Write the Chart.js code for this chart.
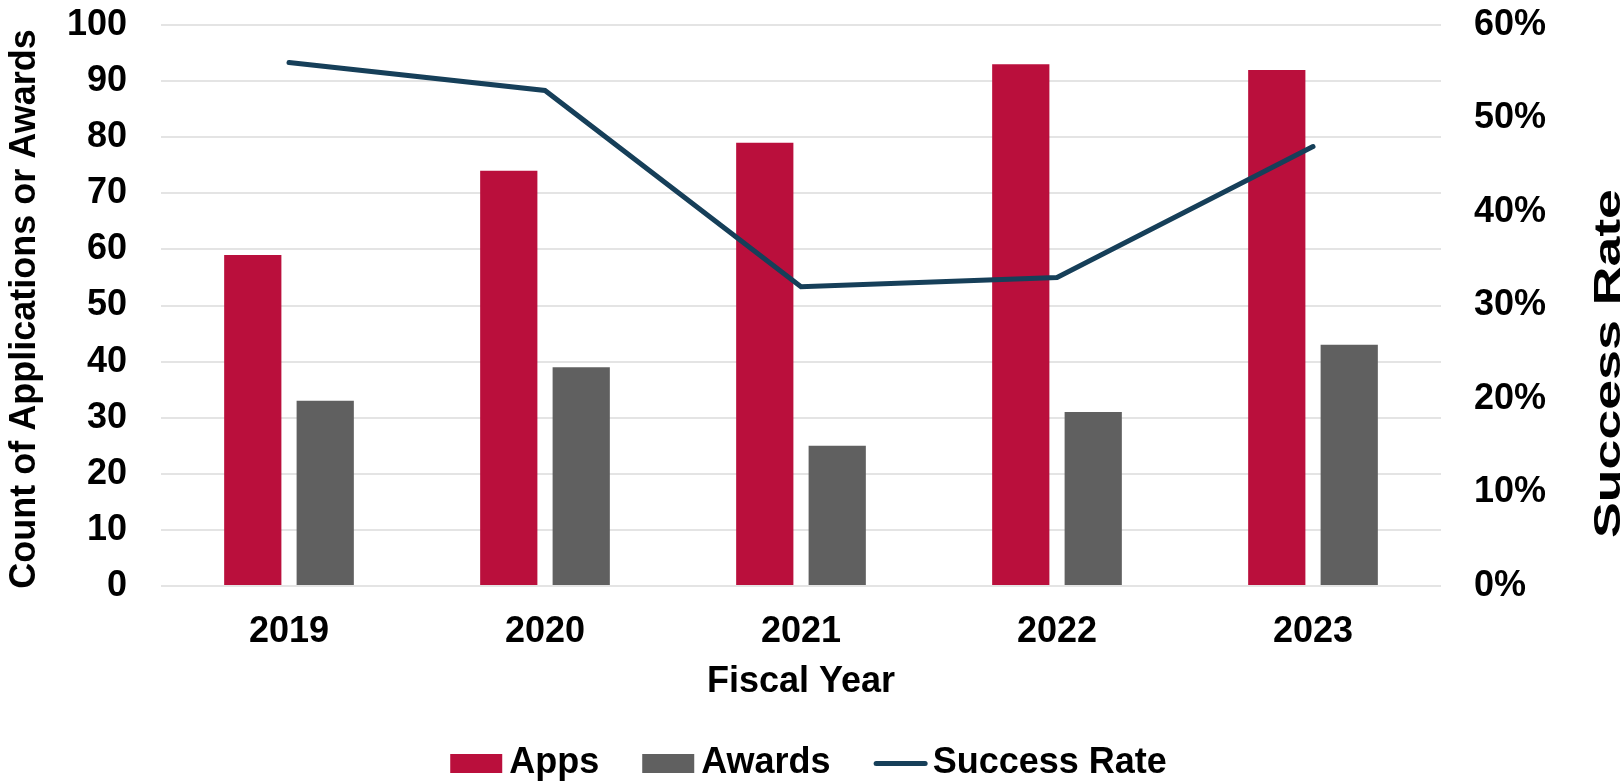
<!DOCTYPE html>
<html>
<head>
<meta charset="utf-8">
<script src="https://cdn.jsdelivr.net/npm/chart.js@4"></script>
<style>
  html, body { margin: 0; padding: 0; background: #ffffff; }
  #wrap { width: 1623px; height: 784px; position: relative; }
</style>
</head>
<body>
<div id="wrap"><canvas id="c" width="1623" height="784"></canvas></div>
<script>
// ---- Data ----
const categories = ['2019', '2020', '2021', '2022', '2023'];
const apps = [59, 74, 79, 93, 92];
const awards = [33, 39, 25, 31, 43];
const successRate = [0.56, 0.53, 0.32, 0.33, 0.47];

// ---- Axis tick settings ----
const countMax = 100;
const countStep = 10;
const rateMax = 0.6;
const rateStep = 0.1;

// ---- Text ----
const seriesLabels = ['Apps', 'Awards', 'Success Rate'];
const xTitle = 'Fiscal Year';
const yLeftTitle = 'Count of Applications or Awards';
const yRightTitle = 'Success Rate';

// ---- Styles ----
const FONT_FAMILY = "'Liberation Sans', Arial, Helvetica, sans-serif";
const appsColor = '#BA0F3C';
const awardsColor = '#606060';
const lineColor = '#163F59';
const gridColor = '#E4E4E4';

const titlesAndLegend = {
  id: 'titlesAndLegend',
  afterDraw(chart) {
    const ctx = chart.ctx;
    ctx.save();
    ctx.font = 'bold 36px ' + FONT_FAMILY;
    ctx.fillStyle = '#000000';

    // Left y-axis title (reads bottom to top)
    ctx.save();
    ctx.translate(35, 309);
    ctx.rotate(-Math.PI / 2);
    ctx.textAlign = 'center';
    ctx.textBaseline = 'alphabetic';
    ctx.fillText(yLeftTitle, 0, 0);
    ctx.restore();

    // Right y-axis title (reads bottom to top, stretched)
    ctx.save();
    ctx.translate(chart.width - 3.5, 363.5);
    ctx.rotate(-Math.PI / 2);
    ctx.scale(1.49, 1);
    ctx.textAlign = 'center';
    ctx.textBaseline = 'alphabetic';
    ctx.fillText(yRightTitle, 0, 0);
    ctx.restore();

    // Legend
    const ds = chart.data.datasets;
    const boxW = 52, boxH = 19, gap = 7, itemGap = 43;
    const widths = ds.map(d => ctx.measureText(d.label).width);
    let total = 0;
    widths.forEach(w => { total += boxW + gap + w; });
    total += itemGap * (ds.length - 1);
    let x = (chart.width - total) / 2 - 3;
    const cy = 763.5;
    ds.forEach((d, i) => {
      if (d.type === 'line') {
        ctx.strokeStyle = d.borderColor;
        ctx.lineWidth = 5;
        ctx.lineCap = 'round';
        ctx.beginPath();
        ctx.moveTo(x + 2.5, cy);
        ctx.lineTo(x + boxW - 0.5, cy);
        ctx.stroke();
      } else {
        ctx.fillStyle = d.backgroundColor;
        ctx.fillRect(x, cy - boxH / 2, boxW, boxH);
      }
      ctx.fillStyle = '#000000';
      ctx.textAlign = 'left';
      ctx.textBaseline = 'alphabetic';
      ctx.fillText(d.label, x + boxW + gap, 773);
      x += boxW + gap + widths[i] + itemGap;
    });
    ctx.restore();
  }
};

const tickFont = { family: FONT_FAMILY, size: 36, weight: 'bold', lineHeight: 1.2 };

function zeroPad(scale) {
  scale.paddingTop = 0;
  scale.paddingBottom = 0;
  scale.paddingLeft = 0;
  scale.paddingRight = 0;
}

new Chart(document.getElementById('c'), {
  data: {
    labels: categories,
    datasets: [
      {
        type: 'bar',
        label: seriesLabels[0],
        data: apps,
        backgroundColor: appsColor,
        borderWidth: 0,
        categoryPercentage: 0.566,
        barPercentage: 0.79,
        yAxisID: 'y',
        order: 1
      },
      {
        type: 'bar',
        label: seriesLabels[1],
        data: awards,
        backgroundColor: awardsColor,
        borderWidth: 0,
        categoryPercentage: 0.566,
        barPercentage: 0.79,
        yAxisID: 'y',
        order: 1
      },
      {
        type: 'line',
        label: seriesLabels[2],
        data: successRate,
        borderColor: lineColor,
        backgroundColor: lineColor,
        borderWidth: 5,
        borderCapStyle: 'round',
        borderJoinStyle: 'miter',
        pointRadius: 0,
        pointHoverRadius: 0,
        tension: 0,
        fill: false,
        yAxisID: 'y1',
        order: 0
      }
    ]
  },
  options: {
    responsive: false,
    animation: false,
    devicePixelRatio: 1,
    layout: { padding: { top: 25, bottom: 80, left: 0, right: 0 } },
    plugins: {
      legend: { display: false },
      tooltip: { enabled: false },
      title: { display: false }
    },
    scales: {
      x: {
        type: 'category',
        offset: true,
        grid: { display: false, drawTicks: false },
        border: { display: false },
        ticks: { color: '#000000', font: tickFont, padding: 24, maxRotation: 0 },
        title: {
          display: true,
          text: xTitle,
          color: '#000000',
          font: tickFont,
          padding: 0
        },
        afterFit(scale) { scale.height = 118; zeroPad(scale); }
      },
      y: {
        type: 'linear',
        position: 'left',
        min: 0,
        max: countMax,
        ticks: { stepSize: countStep, color: '#000000', font: tickFont, padding: 34 },
        grid: { color: gridColor, lineWidth: 2, drawTicks: false },
        border: { display: false },
        afterFit(scale) { scale.width = 161; zeroPad(scale); }
      },
      y1: {
        type: 'linear',
        position: 'right',
        min: 0,
        max: rateMax,
        ticks: {
          stepSize: rateStep,
          color: '#000000',
          font: tickFont,
          padding: 33,
          callback: v => Math.round(v * 100) + '%'
        },
        grid: { drawOnChartArea: false, drawTicks: false },
        border: { display: false },
        afterFit(scale) { scale.width = 182; zeroPad(scale); }
      }
    }
  },
  plugins: [titlesAndLegend]
});
</script>
</body>
</html>
